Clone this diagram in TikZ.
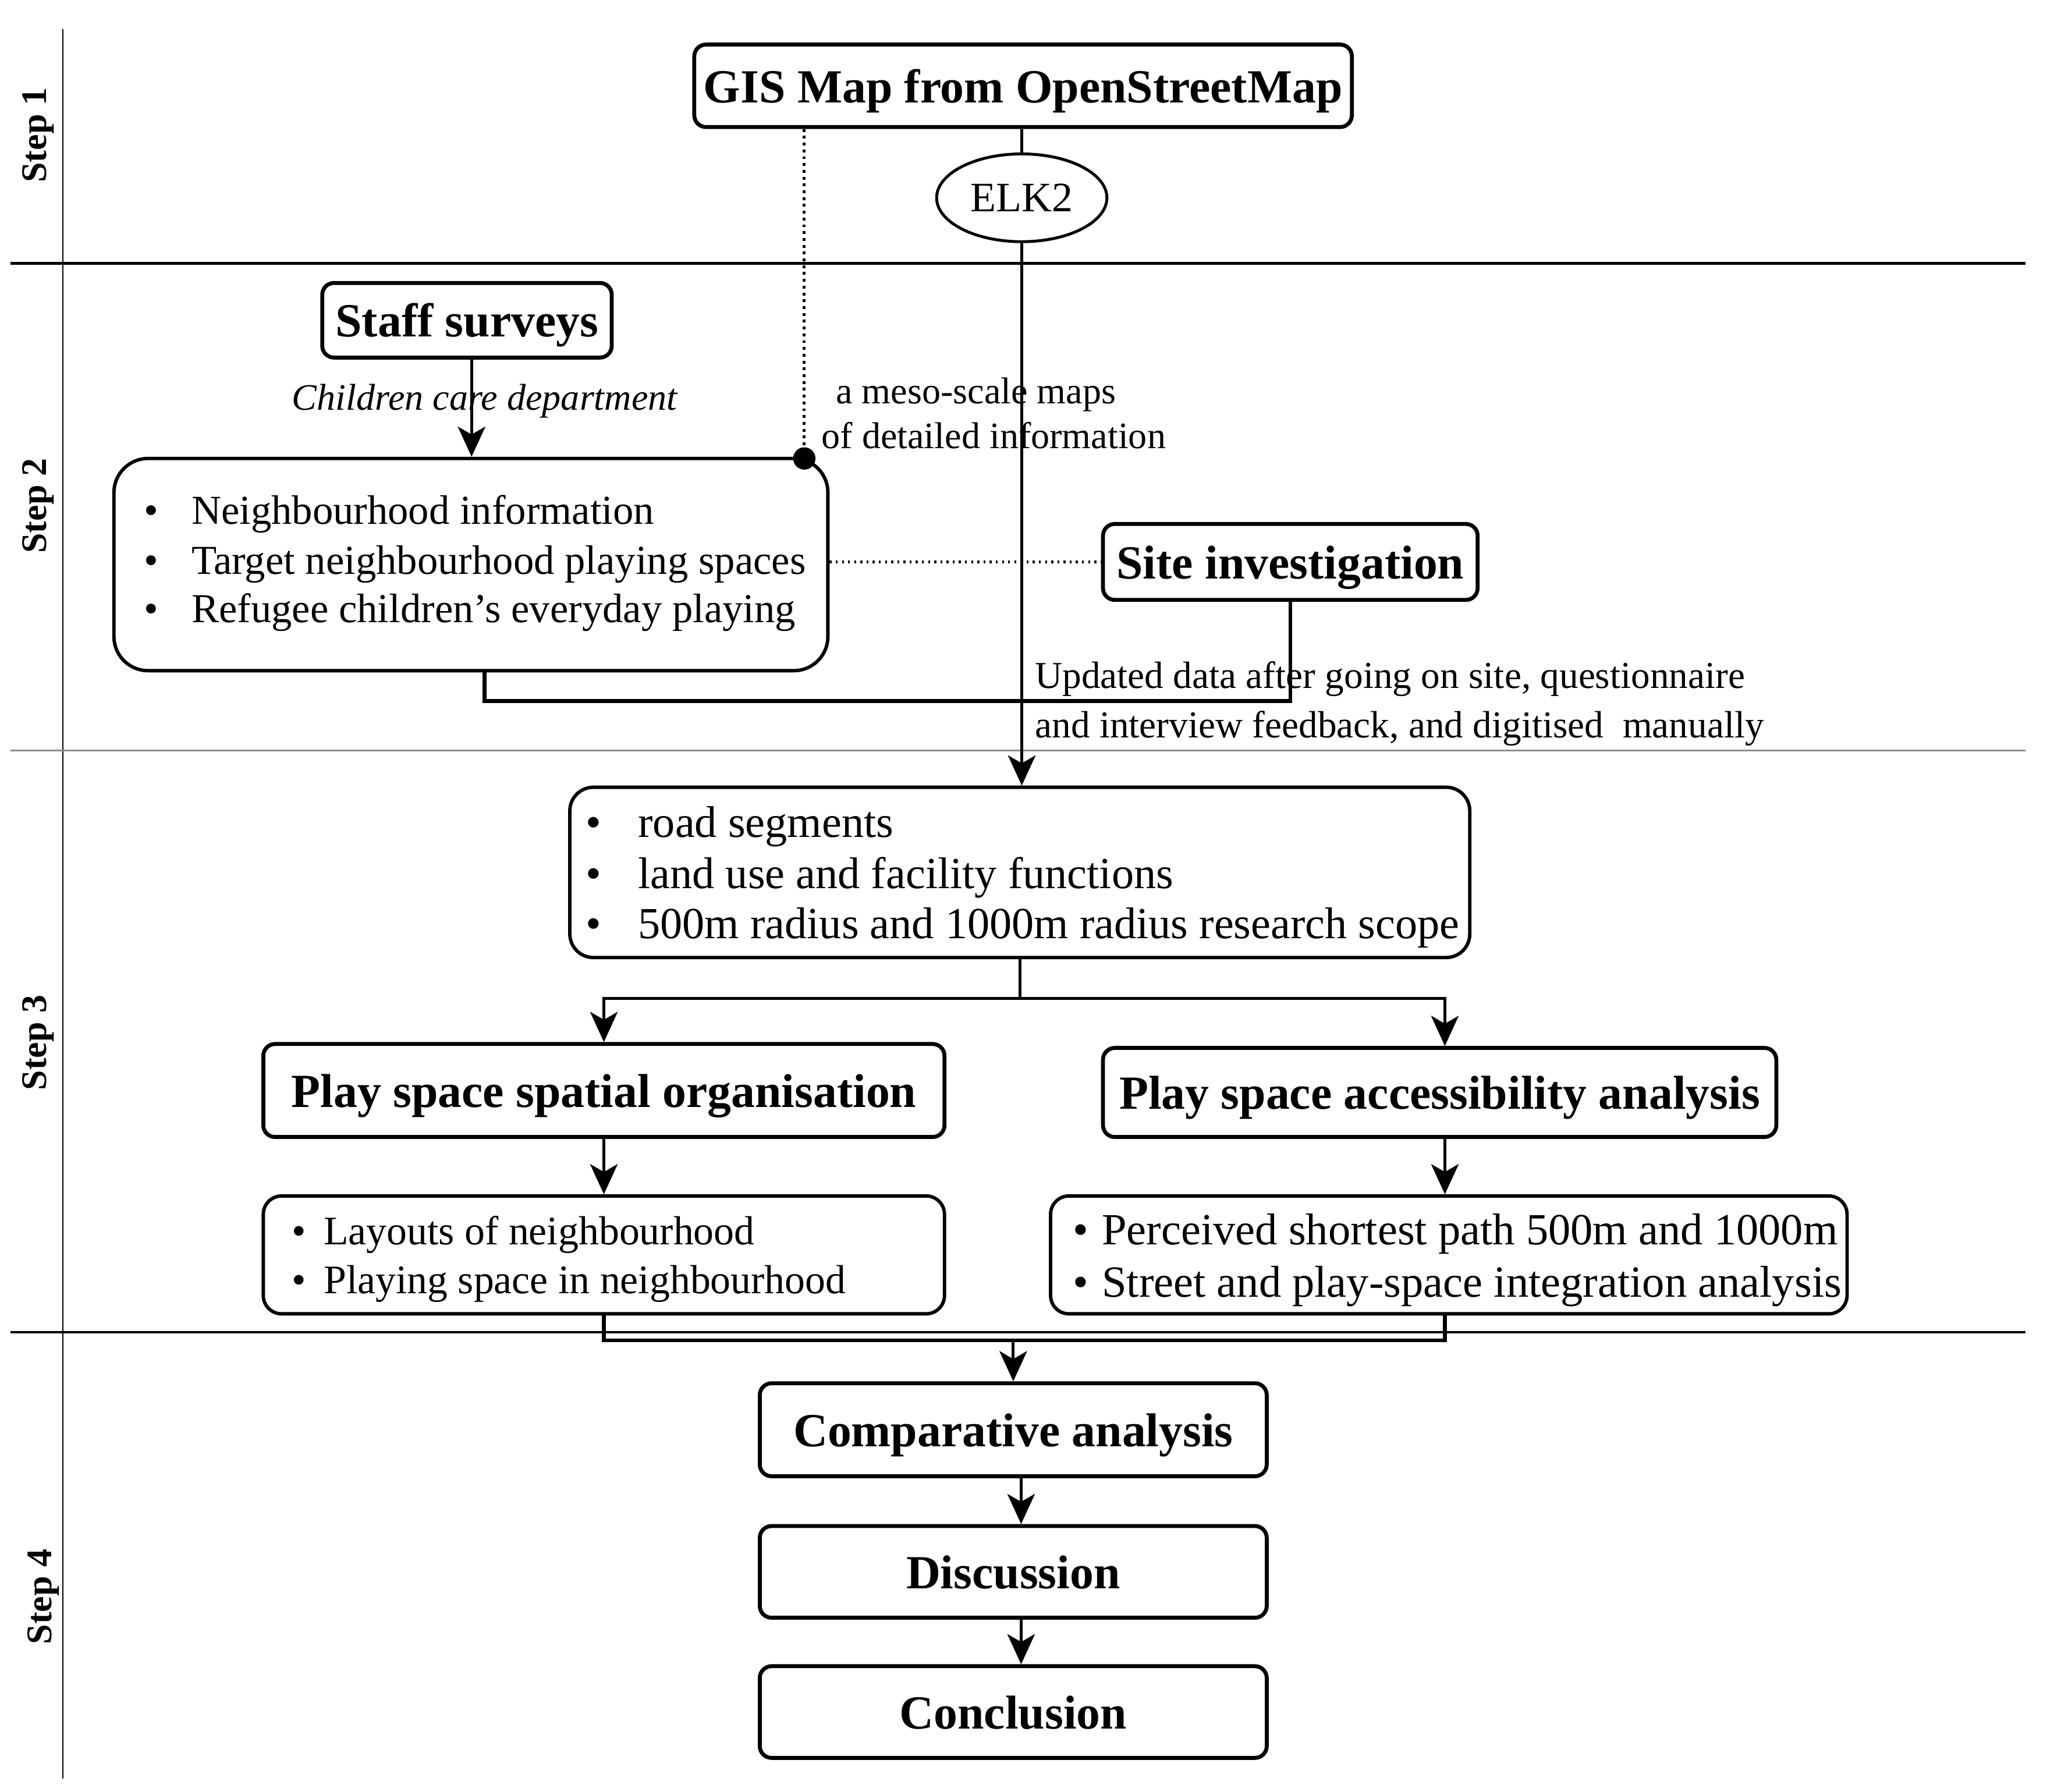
\documentclass[tikz,border=0pt]{standalone}
\usepackage{fontspec}
\setmainfont{Liberation Serif}
\usetikzlibrary{shapes.geometric,arrows.meta}
\newcommand\bulletitem[2]{\makebox[#1][l]{\textbullet}#2}
\begin{document}
\begin{tikzpicture}[x=1pt,y=-1pt,
  titlebox/.style={draw,line width=3pt,rounded corners=9pt,inner sep=0pt,align=center,text height=32.7pt,text depth=7.3pt,font=\fontsize{36.3}{40}\selectfont\bfseries},
  listbox/.style={draw,line width=2.6pt,inner sep=0pt},
  lineitem/.style={anchor=mid west,inner sep=0pt},
  notetext/.style={anchor=mid west,inner sep=0pt,font=\fontsize{28.5}{32}\selectfont},
  conn/.style={line width=2.2pt},
  arr/.style={conn,-{Stealth[length=23pt,width=21pt,inset=6pt]}},
  bracketline/.style={line width=3pt},
  framel/.style={line width=1.3pt},
  steplabel/.style={rotate=90,font=\fontsize{27.5}{30}\selectfont\bfseries,inner sep=0pt}
]
\useasboundingbox (0,0) rectangle (1568,1368);

% frame
\draw[framel] (48,22) -- (48,1358);
\draw[line width=2pt] (8,201) -- (1546,201);
\draw[line width=1.3pt,black!45] (8,573) -- (1546,573);
\draw[line width=1.5pt] (8,1017) -- (1546,1017);
\node[steplabel] (s1) at (29,103) {Step 1};
\node[steplabel] (s2) at (29,386) {Step 2};
\node[steplabel] (s3) at (29,796) {Step 3};
\node[steplabel] (s4) at (33,1219) {Step 4};

% step 1
\node[titlebox,minimum width=502pt,minimum height=63pt] (gis) at (781,65.5) {GIS Map from OpenStreetMap};
\node[draw,ellipse,line width=2.2pt,minimum width=130pt,minimum height=67pt,inner sep=0pt,font=\fontsize{32}{36}\selectfont] (elk) at (780,151) {ELK2};

% step 2
\node[titlebox,minimum width=221pt,minimum height=57pt] (staff) at (356.5,244.5) {Staff surveys};
\node[listbox,rounded corners=26pt,minimum width=545pt,minimum height=162pt] (neigh) at (359.5,431) {};
\node[lineitem,font=\fontsize{31.4}{34}\selectfont] (n1) at (109.6,398) {\bulletitem{36.4pt}{Neighbourhood information}};
\node[lineitem,font=\fontsize{31.4}{34}\selectfont] (n2) at (109.6,436) {\bulletitem{36.4pt}{Target neighbourhood playing spaces}};
\node[lineitem,font=\fontsize{31.4}{34}\selectfont] (n3) at (109.6,473) {\bulletitem{36.4pt}{Refugee children’s everyday playing}};
\node[titlebox,minimum width=286pt,minimum height=58pt] (site) at (985,429) {Site investigation};

\node[inner sep=0pt,font=\fontsize{28.5}{32}\selectfont\itshape] (care) at (370,306) {Children care department};
\node[notetext] (meso1) at (638,306) {a meso-scale maps};
\node[notetext] (meso2) at (627,340) {of detailed information};
\node[notetext,font=\fontsize{29}{32}\selectfont] (upd1) at (790,523) {Updated data after going on site, questionnaire};
\node[notetext,font=\fontsize{29}{32}\selectfont] (upd2) at (790,561) {and interview feedback, and digitised\ \ manually};

% step 3
\node[listbox,rounded corners=18pt,minimum width=687pt,minimum height=130pt] (road) at (778.5,666) {};
\node[lineitem,font=\fontsize{33.9}{36}\selectfont] (r1) at (447,637) {\bulletitem{40pt}{road segments}};
\node[lineitem,font=\fontsize{33.9}{36}\selectfont] (r2) at (447,676) {\bulletitem{40pt}{land use and facility functions}};
\node[lineitem,font=\fontsize{33.9}{36}\selectfont] (r3) at (447,714) {\bulletitem{40pt}{500m radius and 1000m radius research scope}};

\node[titlebox,minimum width=520pt,minimum height=71pt] (org) at (461,832.5) {Play space spatial organisation};
\node[titlebox,minimum width=514pt,minimum height=68pt] (acc) at (1099,834) {Play space accessibility analysis};

\node[listbox,rounded corners=14pt,minimum width=520pt,minimum height=90pt] (lay) at (461,958) {};
\node[lineitem,font=\fontsize{31}{34}\selectfont] (l1) at (222.6,948) {\bulletitem{24.4pt}{Layouts of neighbourhood}};
\node[lineitem,font=\fontsize{31}{34}\selectfont] (l2) at (222.6,985) {\bulletitem{24.4pt}{Playing space in neighbourhood}};

\node[listbox,rounded corners=14pt,minimum width=608pt,minimum height=90pt] (perc) at (1106,958) {};
\node[lineitem,font=\fontsize{34}{36}\selectfont] (p1) at (819,948) {\bulletitem{22pt}{Perceived shortest path 500m and 1000m}};
\node[lineitem,font=\fontsize{34}{36}\selectfont] (p2) at (819,988) {\bulletitem{22pt}{Street and play-space integration analysis}};

% step 4
\node[titlebox,minimum width=387pt,minimum height=71pt] (comp) at (773.5,1091.5) {Comparative analysis};
\node[titlebox,minimum width=387pt,minimum height=70pt] (disc) at (773.5,1200) {Discussion};
\node[titlebox,minimum width=387pt,minimum height=70pt] (concl) at (773.5,1307) {Conclusion};

% connectors
\draw[conn] (elk.north |- gis.south) -- (elk.north);
\draw[arr] (elk.south) -- (elk.south |- road.north);
\coordinate (dotpt) at (614,350);
\draw[line width=2.2pt,dash pattern=on 2.2pt off 3pt] (dotpt |- gis.south) -- (dotpt);
\fill (dotpt) circle (8.5pt);
\draw[arr] ([xshift=3.5pt]staff.south) -- ([xshift=3.5pt]staff.south |- neigh.north);
\draw[line width=2pt,dash pattern=on 1.5pt off 3.2pt] (site.west -| neigh.east) -- (site.west);
\draw[bracketline] ([xshift=10.5pt]neigh.south) -- ++(0,22) -| (site.south);

\draw[conn] (road.south) -- ++(0,30) coordinate (split);
\draw[arr] (split) -| (org.north);
\draw[arr] (split) -| ([xshift=4pt]acc.north);
\draw[arr] (org.south) -- (lay.north);
\draw[arr] ([xshift=4pt]acc.south) -- ([xshift=4pt]acc.south |- perc.north);
\draw[bracketline] (lay.south) -- ++(0,19) -| ([xshift=-3pt]perc.south);
\draw[arr] ([yshift=-19pt]lay.south -| comp.north) -- (comp.north);
\draw[arr] ([xshift=6pt]comp.south) -- ([xshift=6pt]disc.north);
\draw[arr] ([xshift=6pt]disc.south) -- ([xshift=6pt]concl.north);
\end{tikzpicture}
\end{document}
